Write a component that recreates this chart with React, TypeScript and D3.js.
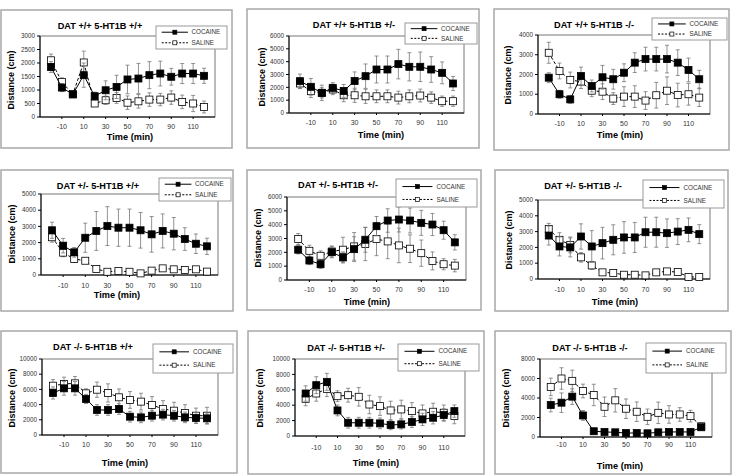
import React from 'react';
import { scaleLinear, line, range } from 'd3';

// time points (min), shared by all panels
const times = [-20, -10, 0, 10, 20, 30, 40, 50, 60, 70, 80, 90, 100, 110, 120];
const xTickLabels = [-10, 10, 30, 50, 70, 90, 110];

const titles = [
  'DAT +/+ 5-HT1B +/+', 'DAT +/+ 5-HT1B +/-', 'DAT +/+ 5-HT1B -/-',
  'DAT +/- 5-HT1B +/+', 'DAT +/- 5-HT1B +/-', 'DAT +/- 5-HT1B -/-',
  'DAT -/- 5-HT1B +/+', 'DAT -/- 5-HT1B +/-', 'DAT -/- 5-HT1B -/-',
];
const yMax = [3000, 6000, 4000, 5000, 6000, 5000, 10000, 10000, 8000];
const yStep = [500, 1000, 1000, 1000, 1000, 1000, 2000, 2000, 2000];

const cocaine = [
  [1850, 1090, 840, 1550, 770, 990, 1115, 1390, 1425, 1550, 1610, 1490, 1610, 1610, 1525],
  [2480, 2040, 1570, 1960, 1720, 2500, 2870, 3390, 3390, 3810, 3600, 3600, 3390, 3130, 2300],
  [1840, 1000, 740, 1920, 1420, 1860, 1760, 2090, 2600, 2780, 2780, 2780, 2600, 2230, 1760],
  [2760, 1810, 1400, 2300, 2720, 3020, 2920, 2920, 2760, 2510, 2720, 2550, 2220, 1930, 1770],
  [2190, 1410, 1140, 2010, 1630, 2230, 2910, 3890, 4300, 4370, 4300, 4130, 4010, 3600, 2720],
  [2750, 2060, 2000, 2690, 2060, 2270, 2480, 2630, 2630, 2960, 2960, 2900, 3000, 3110, 2840],
  [5530, 6140, 6140, 4740, 3290, 3290, 3420, 2410, 2320, 2540, 2680, 2540, 2320, 2240, 2190],
  [5520, 6600, 7030, 3320, 1720, 1720, 1720, 1640, 1420, 1510, 1810, 2160, 2370, 2720, 3230],
  [3280, 3520, 4140, 2210, 590, 520, 480, 410, 410, 380, 480, 520, 520, 520, 1000],
];
const cocaineErr = [
  [200, 150, 100, 450, 150, 350, 430, 530, 560, 500, 460, 310, 370, 370, 280],
  [550, 650, 400, 400, 500, 700, 950, 1050, 1050, 1150, 1100, 1150, 1000, 850, 550],
  [250, 200, 200, 450, 300, 600, 500, 450, 500, 600, 600, 700, 650, 600, 450],
  [500, 450, 300, 900, 1200, 1200, 1150, 1150, 1100, 1100, 1050, 1000, 700, 600, 500],
  [300, 300, 300, 400, 400, 900, 900, 700, 850, 900, 900, 900, 800, 650, 550],
  [600, 600, 600, 800, 1000, 1000, 950, 1000, 950, 950, 950, 900, 820, 750, 600],
  [800, 900, 900, 600, 700, 700, 700, 700, 700, 700, 700, 700, 700, 700, 700],
  [1000, 1100, 1100, 700, 700, 700, 700, 700, 600, 600, 700, 800, 800, 800, 800],
  [700, 1000, 800, 500, 100, 100, 100, 100, 100, 100, 100, 100, 100, 100, 150],
];
const saline = [
  [2100, 1300, 840, 2020, 500, 620, 705, 530, 580, 645, 645, 720, 560, 500, 370],
  [2300, 1700, 1570, 1830, 1380, 1380, 1300, 1300, 1300, 1200, 1300, 1360, 1200, 920, 920],
  [3100, 2180, 1720, 1640, 1180, 1130, 780, 880, 880, 680, 950, 1180, 960, 1000, 830],
  [2330, 1380, 990, 880, 370, 200, 250, 200, 100, 270, 410, 350, 310, 350, 210],
  [2960, 2110, 1750, 2060, 2190, 2430, 2600, 2960, 2790, 2500, 2260, 1940, 1380, 1140, 1040],
  [3170, 2480, 2160, 1370, 860, 420, 380, 270, 270, 230, 420, 480, 440, 130, 130],
  [6490, 6710, 6800, 5480, 5960, 5530, 4960, 4610, 4390, 3950, 3420, 3200, 2890, 2540, 2540],
  [4830, 5520, 6120, 5170, 5300, 5090, 4090, 3880, 3320, 3450, 3230, 2930, 3150, 3020, 2590],
  [5140, 6000, 5760, 4720, 4310, 3100, 3760, 2900, 2590, 2070, 2480, 2310, 2310, 2140, 1100],
];
const salineErr = [
  [230, 150, 100, 420, 100, 150, 200, 250, 250, 250, 230, 250, 250, 300, 220],
  [400, 500, 600, 400, 500, 550, 550, 500, 500, 500, 500, 500, 450, 400, 400],
  [530, 400, 400, 350, 300, 400, 300, 500, 550, 450, 650, 700, 600, 550, 450],
  [300, 250, 200, 150, 120, 100, 100, 100, 100, 100, 100, 100, 100, 100, 100],
  [400, 400, 350, 400, 900, 1000, 1200, 1200, 1250, 1250, 1000, 950, 650, 400, 450],
  [350, 450, 500, 300, 250, 100, 100, 100, 100, 100, 100, 100, 100, 100, 100],
  [800, 900, 900, 600, 1000, 1200, 1100, 1100, 1100, 1100, 1100, 1100, 1100, 1000, 1100],
  [900, 1000, 1000, 700, 900, 1200, 1200, 1200, 1200, 1200, 1100, 1100, 1100, 1000, 1000],
  [900, 1100, 1100, 700, 1100, 1000, 1200, 1000, 1000, 800, 1100, 900, 700, 600, 300],
];

// panel geometry in page pixels
const layouts = [
  { f: [1, 10, 231, 138], x0: 40, x1: 215, yt: 36, yb: 117, t: [100, 26], lg: [156, 26, 71, 23], yl: [11, 80], xly: 126, xt: [130, 137] },
  { f: [247, 9, 232, 139], x0: 289, x1: 464, yt: 36, yb: 113, t: [354, 25], lg: [405, 23, 72, 21], yl: [262, 77], xly: 122, xt: [381, 135] },
  { f: [494, 9, 235, 141], x0: 538, x1: 710, yt: 35, yb: 114, t: [594, 25], lg: [652, 18, 75, 22], yl: [508, 75], xly: 123, xt: [620, 135] },
  { f: [1, 170, 232, 141], x0: 41, x1: 218, yt: 194, yb: 275, t: [98, 186], lg: [159, 178, 72, 23], yl: [12, 234], xly: 285, xt: [117, 295] },
  { f: [247, 170, 234, 140], x0: 287, x1: 466, yt: 197, yb: 280, t: [338, 185], lg: [396, 179, 81, 28], yl: [258, 238], xly: 289, xt: [367, 302] },
  { f: [495, 170, 233, 141], x0: 538, x1: 710, yt: 200, yb: 279, t: [583, 186], lg: [643, 180, 81, 28], yl: [509, 240], xly: 289, xt: [615, 302] },
  { f: [1, 331, 236, 142], x0: 42, x1: 218, yt: 359, yb: 435, t: [93, 347], lg: [153, 344, 80, 29], yl: [12, 398], xly: 444, xt: [125, 463] },
  { f: [248, 331, 236, 143], x0: 295, x1: 465, yt: 359, yb: 436, t: [346, 348], lg: [398, 344, 81, 27], yl: [260, 398], xly: 447, xt: [376, 463] },
  { f: [495, 331, 236, 143], x0: 540, x1: 712, yt: 359, yb: 437, t: [590, 348], lg: [646, 343, 80, 30], yl: [506, 398], xly: 444, xt: [620, 466] },
];

const FONT = 'Liberation Sans, Arial, sans-serif';

function Panel({ i }: { i: number }) {
  const L = layouts[i];
  const x = scaleLinear().domain([-30, 130]).range([L.x0, L.x1]);
  const y = scaleLinear().domain([0, yMax[i]]).range([L.yb, L.yt]);
  const yTicks = range(0, yMax[i] + 1, yStep[i]);
  const path = line<number>().x((d, k) => x(times[k])).y((d) => y(d));
  const ms = 7;
  const [lx, ly, lw, lh] = L.lg;

  const series = [
    { vals: saline[i], err: salineErr[i], fill: '#fff', dash: '3,2' },
    { vals: cocaine[i], err: cocaineErr[i], fill: '#000', dash: undefined },
  ];

  return (
    <g fontFamily={FONT}>
      <rect x={L.f[0]} y={L.f[1]} width={L.f[2]} height={L.f[3]} fill="#fff" stroke="#a8a8a8" strokeWidth={1.5} />
      <rect x={L.x0} y={L.yt} width={L.x1 - L.x0} height={L.yb - L.yt} fill="none" stroke="#777" strokeWidth={1} />
      <line x1={L.x0} x2={L.x0} y1={L.yt} y2={L.yb} stroke="#000" />
      <line x1={L.x0} x2={L.x1} y1={L.yb} y2={L.yb} stroke="#000" />
      {yTicks.map((t) => (
        <g key={t}>
          <line x1={L.x0 - 3} x2={L.x0} y1={y(t)} y2={y(t)} stroke="#000" />
          <text x={L.x0 - 5} y={y(t) + 2.2} fontSize={6.3} textAnchor="end" fill="#333">{t}</text>
        </g>
      ))}
      {xTickLabels.map((t) => (
        <g key={t}>
          <line x1={x(t)} x2={x(t)} y1={L.yb} y2={L.yb + 2} stroke="#000" />
          <text x={x(t)} y={L.xly + 2.5} fontSize={7} textAnchor="middle" fill="#333">{t}</text>
        </g>
      ))}
      {series.map((s, si) => (
        <g key={si}>
          {s.vals.map((v, k) => (
            <g key={k} stroke="#777" strokeWidth={0.8}>
              <line x1={x(times[k])} x2={x(times[k])} y1={y(v - s.err[k])} y2={y(v + s.err[k])} />
              <line x1={x(times[k]) - 2} x2={x(times[k]) + 2} y1={y(v + s.err[k])} y2={y(v + s.err[k])} />
              <line x1={x(times[k]) - 2} x2={x(times[k]) + 2} y1={y(v - s.err[k])} y2={y(v - s.err[k])} />
            </g>
          ))}
          <path d={path(s.vals) || ''} fill="none" stroke="#000" strokeWidth={1} strokeDasharray={s.dash} />
          {s.vals.map((v, k) => (
            <rect key={k} x={x(times[k]) - ms / 2} y={y(v) - ms / 2} width={ms} height={ms} fill={s.fill} stroke="#000" strokeWidth={0.8} />
          ))}
        </g>
      ))}
      <text x={L.t[0]} y={L.t[1] + 3.2} fontSize={9.2} fontWeight="bold" textAnchor="middle">{titles[i]}</text>
      <text transform={`translate(${L.yl[0] + 3},${L.yl[1]}) rotate(-90)`} fontSize={9} fontWeight="bold" textAnchor="middle">Distance (cm)</text>
      <text x={L.xt[0]} y={L.xt[1] + 3.2} fontSize={9.2} fontWeight="bold" textAnchor="middle">Time (min)</text>
      <rect x={lx} y={ly} width={lw} height={lh} fill="#fff" stroke="#999" strokeWidth={1} />
      {[
        { label: 'COCAINE', fill: '#000', dash: undefined, fy: 0.27 },
        { label: 'SALINE', fill: '#fff', dash: '2,1.5', fy: 0.73 },
      ].map((e) => {
        const cy = ly + lh * e.fy;
        const a = lx + lw * 0.08;
        const b = lx + lw * 0.45;
        return (
          <g key={e.label}>
            <line x1={a} x2={b} y1={cy} y2={cy} stroke="#000" strokeDasharray={e.dash} />
            <rect x={(a + b) / 2 - 2} y={cy - 2} width={4} height={4} fill={e.fill} stroke="#000" strokeWidth={0.7} />
            <text x={lx + lw * 0.5} y={cy + 2.2} fontSize={6.3} fill="#333">{e.label}</text>
          </g>
        );
      })}
    </g>
  );
}

export default function App() {
  return (
    <svg width={732} height={475} style={{ position: 'absolute', left: 0, top: 0 }}>
      <rect width={732} height={475} fill="#fff" />
      {titles.map((_, i) => <Panel key={i} i={i} />)}
    </svg>
  );
}
